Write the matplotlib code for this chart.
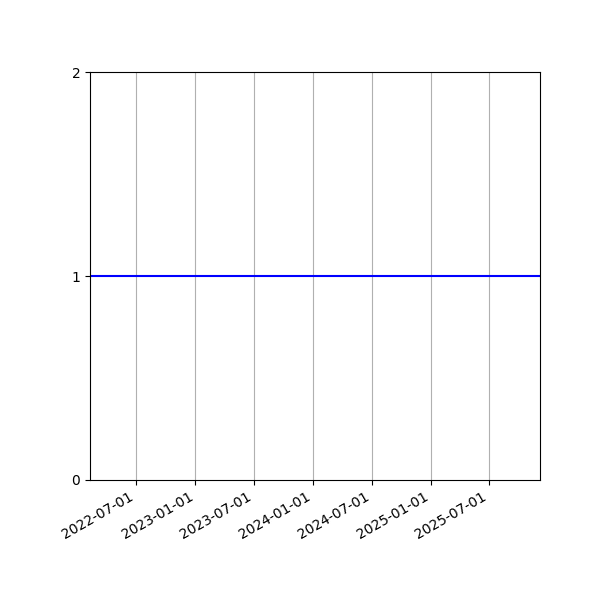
import matplotlib
matplotlib.use("Agg")
import matplotlib.pyplot as plt
import matplotlib.dates as mdates
import numpy as np
import datetime as dt

dates = [dt.date(2022, 2, 8), dt.date(2025, 12, 6)]
values = [1, 1]
yticks = [0, 1, 2]

fig, ax = plt.subplots(figsize=(6, 6), dpi=100)
ax.plot(dates, values, color="blue")
ax.set_xlim(dates[0], dates[-1])
ax.set_ylim(0, 2)
ax.set_yticks(yticks)
ax.xaxis.set_major_locator(mdates.MonthLocator(bymonth=[1, 7]))
ax.xaxis.set_major_formatter(mdates.DateFormatter("%Y-%m-%d"))
ax.grid(axis="x")
fig.autofmt_xdate()
fig.subplots_adjust(left=0.15, right=0.9, top=0.88, bottom=0.2)
fig.savefig("out.png")
